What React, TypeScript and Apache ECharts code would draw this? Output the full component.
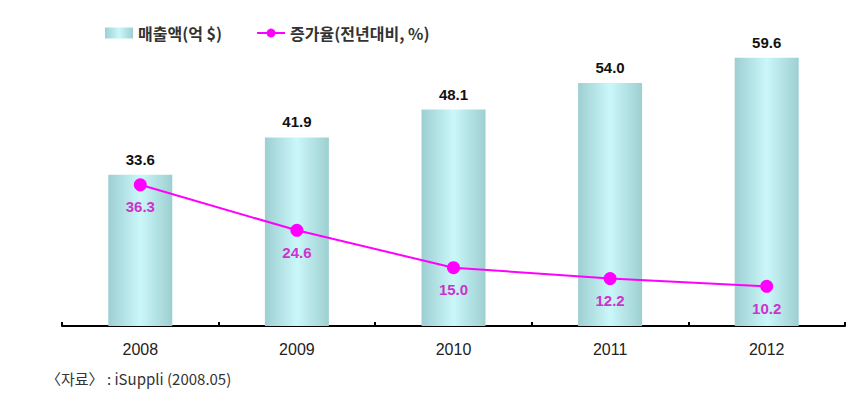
import React, { useEffect, useRef } from "react";
import * as echarts from "echarts";

const years = ["2008", "2009", "2010", "2011", "2012"];
const sales = [33.6, 41.9, 48.1, 54.0, 59.6];
const growth = [36.3, 24.6, 15.0, 12.2, 10.2];
const salesName = "매출액(억 $)";
const growthName = "증가율(전년대비, %)";
const sourceText = "〈자료〉 : iSuppli (2008.05)";

const FONT = "'Noto Sans CJK KR', 'Noto Sans', sans-serif";
const NUMFONT = "'Liberation Sans', Arial, sans-serif";

export default function App() {
  const ref = useRef<HTMLDivElement>(null);
  useEffect(() => {
    if (!ref.current) return;
    const chart = echarts.init(ref.current, null, { renderer: "svg" });
    const barGrad = new echarts.graphic.LinearGradient(0, 0, 1, 0, [
      { offset: 0, color: "#9dcfd2" },
      { offset: 0.5, color: "#cbf7f9" },
      { offset: 1, color: "#9dcfd1" },
    ]);
    chart.setOption({
      animation: false,
      backgroundColor: "#ffffff",
      textStyle: { fontFamily: FONT },
      legend: {
        left: 100,
        top: 20,
        itemGap: 34,
        itemWidth: 28,
        itemHeight: 11,
        textStyle: { fontFamily: FONT, fontSize: 16, fontWeight: "bold", color: "#333" },
        data: [
          { name: salesName, icon: "rect" },
          { name: growthName },
        ],
      },
      grid: { left: 62, right: 12, top: 11, bottom: 75 },
      xAxis: {
        type: "category",
        data: years,
        axisLine: { lineStyle: { color: "#000", width: 2 } },
        axisTick: { show: true, inside: true, length: 4, lineStyle: { color: "#000", width: 2 } },
        axisLabel: { margin: 15, fontSize: 16, color: "#222", fontFamily: NUMFONT },
      },
      yAxis: [
        { type: "value", min: 0, max: 70, show: false, splitLine: { show: false } },
        { type: "value", min: 0, max: 81, show: false, splitLine: { show: false } },
      ],
      series: [
        {
          name: salesName,
          type: "bar",
          data: sales,
          barWidth: 64,
          itemStyle: { color: barGrad },
          label: {
            show: true,
            position: "top",
            distance: 8,
            formatter: (p: any) => p.value.toFixed(1),
            fontSize: 15,
            fontWeight: "bold",
            color: "#111",
            fontFamily: NUMFONT,
          },
          yAxisIndex: 0,
        },
        {
          name: growthName,
          type: "line",
          data: growth,
          yAxisIndex: 1,
          symbol: "circle",
          symbolSize: 13,
          lineStyle: { color: "#ff00ff", width: 2 },
          itemStyle: { color: "#ff00ff" },
          label: {
            show: true,
            position: "bottom",
            distance: 8,
            formatter: (p: any) => p.value.toFixed(1),
            fontSize: 15,
            fontWeight: "bold",
            color: "#cc33cc",
            fontFamily: NUMFONT,
          },
        },
      ],
      graphic: [
        {
          type: "text",
          left: 46,
          top: 371,
          style: { text: sourceText, fontSize: 15, fill: "#333", fontFamily: FONT },
        },
      ],
    });
    return () => chart.dispose();
  }, []);
  return (
    <div
      ref={ref}
      style={{ position: "fixed", left: 0, top: 0, width: 857, height: 401 }}
    />
  );
}
